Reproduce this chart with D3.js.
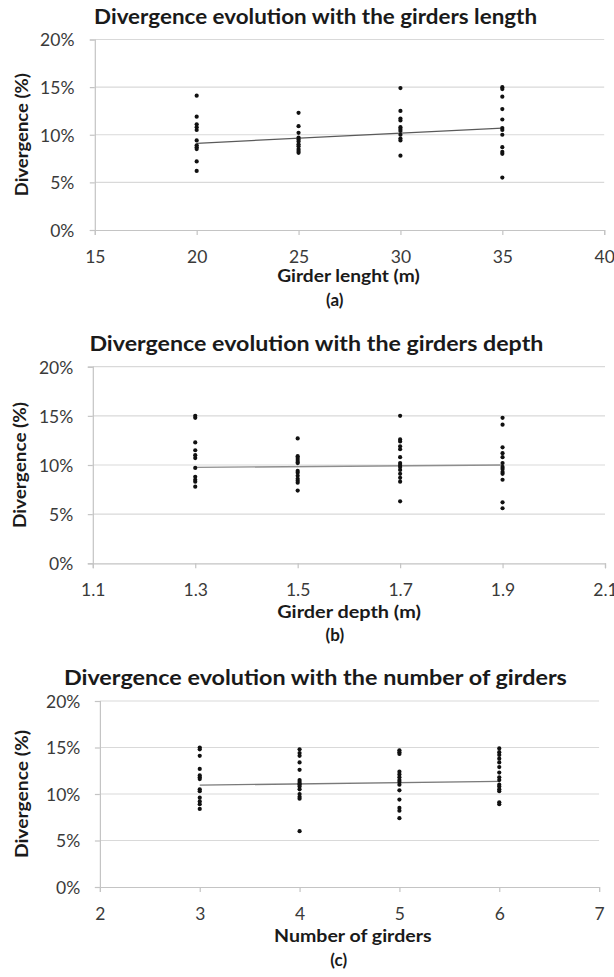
<!DOCTYPE html>
<html>
<head>
<meta charset="utf-8">
<script src="https://cdn.jsdelivr.net/npm/d3@7"></script>
<style>
  html, body { margin: 0; padding: 0; background: #fff; }
  svg { display: block; }
  text { font-family: Lato, "Open Sans", sans-serif; }
</style>
</head>
<body>
<svg id="chart" width="614" height="977"></svg>
<script>
// Divergence (%) for each girder length (m)
const lengthValues = [20, 25, 30, 35];
const lengthDivergence = [
  [14.1, 11.9, 11.1, 10.8, 10.5, 9.4, 8.9, 8.7, 8.5, 7.2, 6.2],
  [12.3, 10.9, 10.2, 9.7, 9.5, 9.3, 9.0, 8.8, 8.5, 8.3, 8.1],
  [14.9, 12.5, 11.7, 11.5, 10.8, 10.6, 10.4, 10.0, 9.6, 9.4, 7.8],
  [15.0, 14.8, 14.0, 12.7, 11.6, 10.7, 10.5, 10.0, 8.7, 8.2, 8.0, 5.5]
];
const lengthTrend = [9.1, 10.7];
const lengthTicks = [15, 20, 25, 30, 35, 40];

// Divergence (%) for each girder depth (m)
const depthValues = [1.3, 1.5, 1.7, 1.9];
const depthDivergence = [
  [15.0, 14.8, 12.3, 11.5, 11.0, 10.7, 9.7, 8.8, 8.5, 8.3, 7.8],
  [12.7, 10.9, 10.7, 10.5, 10.3, 10.2, 9.4, 9.2, 8.9, 8.6, 8.4, 8.2, 7.4],
  [15.0, 12.6, 12.4, 11.9, 11.6, 10.8, 10.2, 10.0, 9.8, 9.5, 9.1, 8.7, 8.3, 6.3],
  [14.8, 14.1, 11.8, 11.2, 10.8, 10.2, 9.8, 9.6, 9.3, 9.1, 8.5, 6.2, 5.6]
];
const depthTrend = [9.75, 10.0];
const depthTicks = [1.1, 1.3, 1.5, 1.7, 1.9, 2.1];

// Divergence (%) for each number of girders
const countValues = [3, 4, 5, 6];
const countDivergence = [
  [15.0, 14.8, 14.1, 12.7, 12.0, 11.8, 11.6, 10.5, 10.3, 9.6, 9.2, 8.9, 8.4],
  [14.8, 14.4, 14.1, 13.4, 12.6, 11.5, 11.3, 11.1, 11.0, 10.8, 10.5, 10.0, 9.7, 9.5, 6.0],
  [14.7, 14.5, 14.3, 12.4, 12.1, 11.8, 11.5, 11.3, 11.0, 10.4, 9.4, 8.5, 8.2, 7.4],
  [14.9, 14.5, 14.2, 13.8, 13.4, 12.9, 12.3, 11.8, 11.5, 11.0, 10.8, 10.5, 10.3, 9.1, 8.9]
];
const countTrend = [10.95, 11.35];
const countTicks = [2, 3, 4, 5, 6, 7];

const divergenceTicks = [0, 5, 10, 15, 20];

const chartTitles = [
  "Divergence evolution with the girders length",
  "Divergence evolution with the girders depth",
  "Divergence evolution with the number of girders"
];
const xTitles = ["Girder lenght (m)", "Girder depth (m)", "Number of girders"];
const yTitle = "Divergence (%)";
const panelTags = ["(a)", "(b)", "(c)"];

// Series bundled per panel
const series = [
  { cats: lengthValues, vals: lengthDivergence, trend: lengthTrend, ticks: lengthTicks, fmt: d => String(d) },
  { cats: depthValues, vals: depthDivergence, trend: depthTrend, ticks: depthTicks, fmt: d3.format(".1f") },
  { cats: countValues, vals: countDivergence, trend: countTrend, ticks: countTicks, fmt: d => String(d) }
];

// Page layout of the three stacked panels
const layouts = [
  { left: 94.8, right: 604.2, top: 39.5, bottom: 230,
    titleX: 315.6, titleY: 24, titleW: 443,
    yLabRight: 74.4, yTitleX: 22.3, yTitleLen: 123,
    xTickBase: 262.7, xTitleX: 348.5, xTitleY: 282, xTitleW: 142.5,
    tagX: 334.8, tagY: 306, trendColor: "#5a5a5a" },
  { left: 92.8, right: 605, top: 366.7, bottom: 563.3,
    titleX: 316.4, titleY: 350.7, titleW: 454,
    yLabRight: 73.2, yTitleX: 19.6, yTitleLen: 126,
    xTickBase: 596.5, xTitleX: 349.1, xTitleY: 617.7, xTitleW: 143.7,
    tagX: 334.8, tagY: 641, trendColor: "#8e8e8e" },
  { left: 99.9, right: 599.1, top: 701, bottom: 887,
    titleX: 315.4, titleY: 685, titleW: 503,
    yLabRight: 80.3, yTitleX: 22.3, yTitleLen: 128,
    xTickBase: 920, xTitleX: 352.8, xTitleY: 941.7, xTitleW: 157.4,
    tagX: 338.7, tagY: 966, trendColor: "#7a7a7a" }
];

const svg = d3.select("#chart");

series.forEach((s, i) => {
  const L = layouts[i];
  const g = svg.append("g");
  const x = d3.scaleLinear()
    .domain([s.ticks[0], s.ticks[s.ticks.length - 1]])
    .range([L.left, L.right]);
  const y = d3.scaleLinear().domain([0, 20]).range([L.bottom, L.top]);

  // horizontal gridlines
  g.append("g").selectAll("line")
    .data(divergenceTicks.filter(t => t > 0))
    .join("line")
    .attr("x1", L.left).attr("x2", L.right)
    .attr("y1", d => y(d)).attr("y2", d => y(d))
    .attr("stroke", "#d9d9d9").attr("stroke-width", 1.2);

  // y axis
  const yAxis = g.append("g")
    .attr("transform", `translate(${L.left},0)`)
    .call(d3.axisLeft(y).tickValues(divergenceTicks).tickSize(5)
      .tickPadding(L.left - L.yLabRight - 5).tickFormat(d => d + "%"));
  // x axis
  const xAxis = g.append("g")
    .attr("transform", `translate(0,${L.bottom})`)
    .call(d3.axisBottom(x).tickValues(s.ticks).tickSize(5).tickFormat(s.fmt));

  [yAxis, xAxis].forEach(ax => {
    ax.select(".domain").attr("stroke", "#c4c4c4").attr("stroke-width", 1.2);
    ax.selectAll(".tick line").attr("stroke", "#c4c4c4").attr("stroke-width", 1.2);
    ax.selectAll(".tick text")
      .attr("fill", "#3a3a3a")
      .style("font-size", "17.5px");
  });
  yAxis.selectAll(".tick text").attr("dy", "0.36em");
  xAxis.selectAll(".tick text").attr("y", null).attr("dy", null)
    .attr("y", L.xTickBase - L.bottom);

  // trend line
  g.append("line")
    .attr("x1", x(s.cats[0])).attr("x2", x(s.cats[s.cats.length - 1]))
    .attr("y1", y(s.trend[0])).attr("y2", y(s.trend[1]))
    .attr("stroke", L.trendColor).attr("stroke-width", 1.3);

  // data points
  const pts = s.cats.flatMap((c, k) => s.vals[k].map(v => ({ c, v })));
  g.append("g").selectAll("circle")
    .data(pts)
    .join("circle")
    .attr("cx", d => x(d.c)).attr("cy", d => y(d.v))
    .attr("r", 2.1)
    .attr("fill", "#111");

  // titles
  g.append("text")
    .attr("x", L.titleX).attr("y", L.titleY)
    .attr("text-anchor", "middle")
    .attr("textLength", L.titleW).attr("lengthAdjust", "spacingAndGlyphs")
    .style("font-size", "20px").style("font-weight", 700)
    .attr("fill", "#1a1a1a")
    .text(chartTitles[i]);

  g.append("text")
    .attr("transform", `translate(${L.yTitleX},${(L.top + L.bottom) / 2}) rotate(-90)`)
    .attr("dy", "0.36em")
    .attr("text-anchor", "middle")
    .attr("textLength", L.yTitleLen).attr("lengthAdjust", "spacingAndGlyphs")
    .style("font-size", "16.5px").style("font-weight", 700)
    .attr("fill", "#1a1a1a")
    .text(yTitle);

  g.append("text")
    .attr("x", L.xTitleX).attr("y", L.xTitleY)
    .attr("text-anchor", "middle")
    .attr("textLength", L.xTitleW).attr("lengthAdjust", "spacingAndGlyphs")
    .style("font-size", "16.5px").style("font-weight", 700)
    .attr("fill", "#1a1a1a")
    .text(xTitles[i]);

  g.append("text")
    .attr("x", L.tagX).attr("y", L.tagY)
    .attr("text-anchor", "middle")
    .style("font-size", "17px").style("font-weight", 700)
    .attr("fill", "#1a1a1a")
    .text(panelTags[i]);
});
</script>
</body>
</html>
